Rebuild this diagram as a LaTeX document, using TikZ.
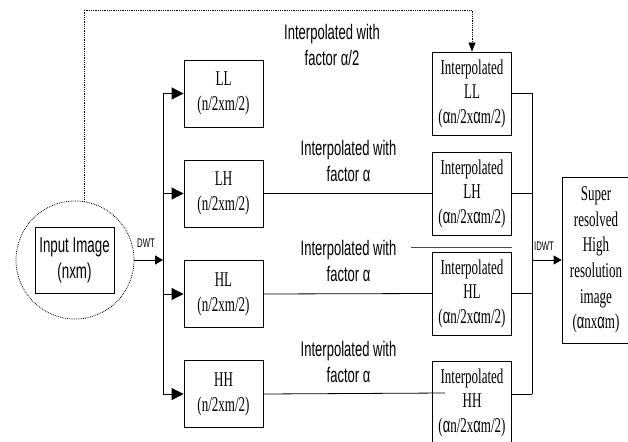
\documentclass[tikz,border=0pt]{standalone}
\usepackage{fontspec}
\setmainfont{Liberation Serif}
\newfontfamily\lblfont[FakeStretch=0.62]{Liberation Sans}
\newfontfamily\boxfont[FakeStretch=0.62]{Liberation Serif}
\usetikzlibrary{arrows.meta}
\begin{document}
\begin{tikzpicture}[x=1pt, y=-1pt, line width=0.8pt,
    blk/.style={draw, inner sep=0pt, minimum width=79pt, align=center, font=\boxfont\fontsize{21}{25}\selectfont},
    lowblk/.style={blk, minimum height=67pt},
    hiblk/.style={blk, minimum height=83pt, font=\boxfont\fontsize{21}{24.5}\selectfont},
    lbl/.style={inner sep=0pt, align=center, font=\lblfont\fontsize{21}{26}\selectfont},
    small/.style={inner sep=0pt, font=\lblfont\fontsize{12.5}{14}\selectfont},
    arr/.style={-{Triangle[length=12pt,width=12pt]}},
    sarr/.style={-{Triangle[length=8pt,width=9pt]}},
    darr/.style={densely dotted, -{Triangle[length=9pt,width=7pt]}}]
  \useasboundingbox (0,0) rectangle (628,441);
  \node[circle, draw, densely dotted, minimum size=118pt, inner sep=0pt] (circ) at (75,260) {};
  \node[draw, inner sep=0pt, minimum width=79pt, minimum height=66pt, align=center, font=\lblfont\fontsize{21.5}{26}\selectfont] (inp) at (74.5,260) {Input Image\\(nxm)};
  \node[lowblk] (ll) at (223.5,93.5) {LL\\(n/2xm/2)};
  \node[lowblk] (lh) at (223.5,193.5) {LH\\(n/2xm/2)};
  \node[lowblk] (hl) at (223.5,294) {HL\\(n/2xm/2)};
  \node[lowblk] (hh) at (223.5,394) {HH\\(n/2xm/2)};
  \node[hiblk] (ill) at (472,93.5) {Interpolated\\LL\\({\lblfont α}n/2x{\lblfont α}m/2)};
  \node[hiblk] (ilh) at (472,193.5) {Interpolated\\LH\\({\lblfont α}n/2x{\lblfont α}m/2)};
  \node[hiblk] (ihl) at (472,293.5) {Interpolated\\HL\\({\lblfont α}n/2x{\lblfont α}m/2)};
  \node[hiblk] (ihh) at (472,402.5) {Interpolated\\HH\\({\lblfont α}n/2x{\lblfont α}m/2)};
  \node[draw, inner sep=0pt, minimum width=68pt, minimum height=166pt, align=center, font=\boxfont\fontsize{21}{25.6}\selectfont] (sr) at (596,260) {Super\\resolved\\High\\resolution\\image\\({\lblfont α}nx{\lblfont α}m)};
  \node[lbl] (tll) at (332,44.5) {Interpolated with\\factor α/2};
  \node[lbl] (tlh) at (348.5,161) {Interpolated with\\factor α};
  \node[lbl] (thl) at (348.5,260.5) {Interpolated with\\factor α};
  \node[lbl] (thh) at (348.5,361.5) {Interpolated with\\factor α};
  \node[small] (dwt) at (146,243) {DWT};
  \node[small] (idwt) at (544,246) {IDWT};
  \coordinate (bl) at (163,260);
  \coordinate (br) at (532,260);
  \coordinate (top) at (0,10);
  \coordinate (hhend) at (445,393);
  \draw[sarr] (circ.east) -- (bl);
  \draw (ll.west -| bl) -- (hh.west -| bl);
  \foreach \n in {ll,lh,hl,hh}
    \draw[arr] (\n.west -| bl) -- (\n.west);
  \draw (lh.east) -- (ilh.west);
  \draw (hl.east) -- (ihl.west);
  \draw (hh.east) -- (hhend);
  \foreach \n in {ill,ilh,ihl}
    \draw (\n.east) -- (\n.east -| br);
  \draw (ihh.east |- hh.east) -- (hh.east -| br);
  \draw (ill.east -| br) -- (hh.east -| br);
  \draw[sarr] (br) -- (br -| sr.west);
  \draw[darr] (circ.81) |- (top -| ill.north) -- (ill.north);
  \draw[black!70] ([shift={(-21,-4)}]ihl.north west) -- ([shift={(0,-4)}]ihl.north east);
\end{tikzpicture}
\end{document}
